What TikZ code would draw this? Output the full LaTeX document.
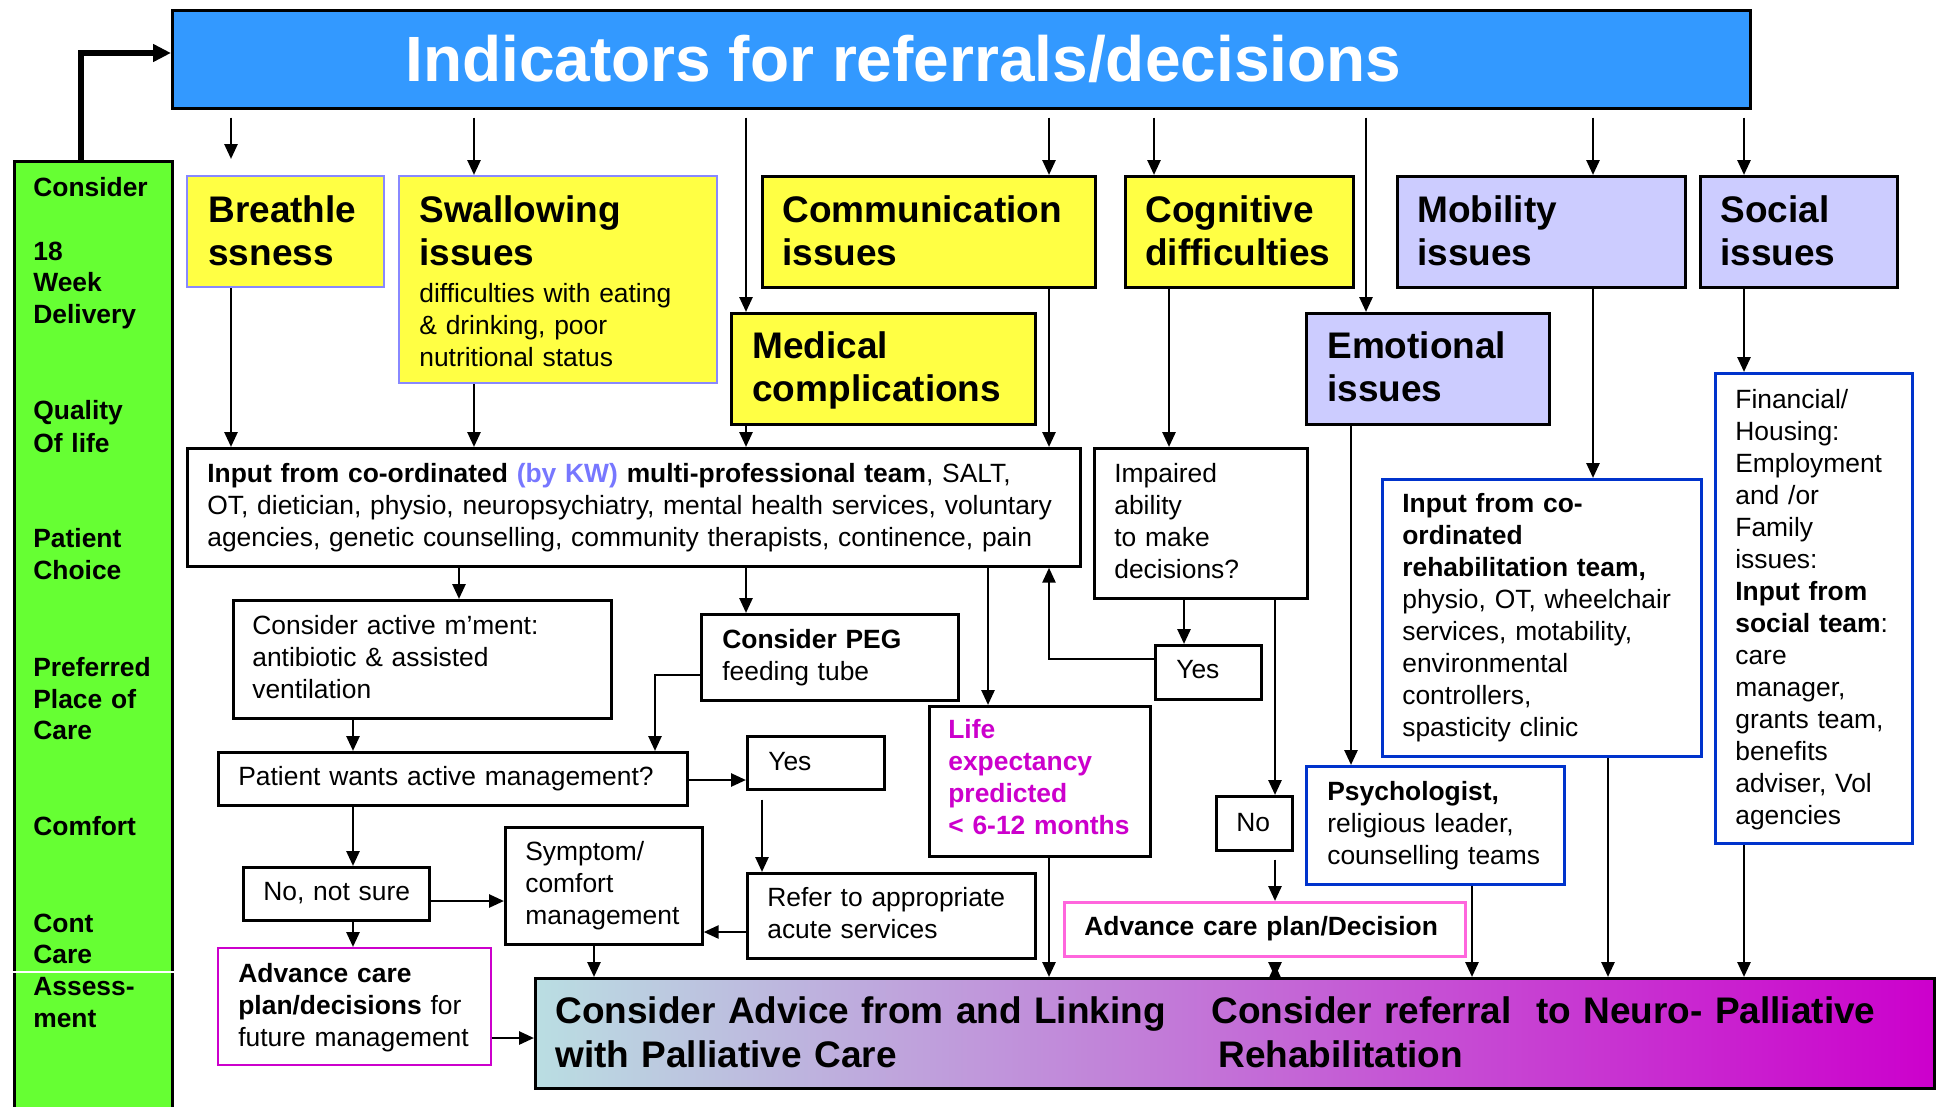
\documentclass[tikz,border=0pt]{standalone}
\usepackage{fontspec}
\setmainfont{Liberation Sans}
\usetikzlibrary{arrows.meta}

\definecolor{barblue}{RGB}{51,153,255}
\definecolor{sidegreen}{RGB}{102,255,51}
\definecolor{boxyellow}{RGB}{255,255,68}
\definecolor{boxlilac}{RGB}{204,204,255}
\definecolor{lilacline}{RGB}{136,136,255}
\definecolor{blueline}{RGB}{0,51,204}
\definecolor{magline}{RGB}{204,0,204}
\definecolor{pinkline}{RGB}{255,102,221}
\definecolor{kwblue}{RGB}{119,119,255}
\definecolor{palL}{RGB}{186,222,226}
\definecolor{palM}{RGB}{196,172,216}
\definecolor{palR}{RGB}{204,0,204}

\tikzset{every picture/.style={line width=2.7pt}}
\tikzset{
	box/.style={draw, inner sep=0pt, anchor=north west},
	ybox/.style={box, fill=boxyellow},
	lbox/.style={box, fill=boxlilac},
	wbox/.style={box, fill=white},
	bbox/.style={box, fill=white, draw=blueline, line width=3pt},
	txt/.style={anchor=base west, inner sep=0pt, text width=1000pt, align=left, font={\fontsize{26.4}{32}\selectfont}},
	btxt/.style={txt, font={\fontsize{26.4}{32}\selectfont\bfseries}},
	hd/.style={txt, font={\fontsize{37}{43}\selectfont\bfseries}},
	arr/.style={-{Triangle[length=15pt,width=13pt]}},
	dblarr/.style={{Triangle[length=15pt,width=13pt]}-{Triangle[length=15pt,width=13pt]}}
}

\begin{document}
\begin{tikzpicture}[x=1pt,y=1pt,yscale=-1]
	\useasboundingbox (0,0) rectangle (1936,1106);

	% top bar and side bar
	\node[box, fill=barblue, minimum width=1578, minimum height=98] (title) at (171,9) {};
	\node[box, fill=sidegreen, minimum width=158, minimum height=960] (side) at (13,160) {};
	\draw[white, line width=1.5pt] (side.west |- 0,972) -- (side.east |- 0,972);

	% issue boxes
	\node[ybox, draw=lilacline, line width=2pt, minimum width=197, minimum height=111] (breath) at (186,175) {};
	\node[ybox, draw=lilacline, line width=2pt, minimum width=318, minimum height=207] (swal) at (398,175) {};
	\node[ybox, minimum width=333, minimum height=111] (comm) at (761,175) {};
	\node[ybox, minimum width=228, minimum height=111] (cog) at (1124,175) {};
	\node[lbox, minimum width=288, minimum height=111] (mob) at (1396,175) {};
	\node[lbox, minimum width=197, minimum height=111] (soc) at (1699,175) {};
	\node[ybox, minimum width=304, minimum height=111] (med) at (730,312) {};
	\node[lbox, minimum width=243, minimum height=111] (emot) at (1305,312) {};

	% team and decision boxes
	\node[wbox, minimum width=893, minimum height=118] (inp) at (186,447) {};
	\node[wbox, minimum width=213, minimum height=150] (imp) at (1093,447) {};
	\node[bbox, minimum width=197, minimum height=470] (fin) at (1714,372) {};
	\node[bbox, minimum width=319, minimum height=277] (reh) at (1381,478) {};
	\node[wbox, minimum width=378, minimum height=118] (cact) at (232,599) {};
	\node[wbox, minimum width=257, minimum height=86] (peg) at (700,613) {};
	\node[wbox, minimum width=106, minimum height=54] (yesR) at (1154,644) {};
	\node[wbox, minimum width=221, minimum height=150] (life) at (928,705) {};
	\node[wbox, minimum width=469, minimum height=53] (pat) at (217,751) {};
	\node[wbox, minimum width=137, minimum height=53] (yesL) at (746,735) {};
	\node[bbox, minimum width=258, minimum height=118] (psy) at (1305,765) {};
	\node[wbox, minimum width=76, minimum height=54] (no) at (1215,795) {};
	\node[wbox, minimum width=197, minimum height=117] (symp) at (504,826) {};
	\node[wbox, minimum width=186, minimum height=53] (nsure) at (242,866) {};
	\node[wbox, minimum width=288, minimum height=85] (ref) at (746,872) {};
	\node[box, fill=white, draw=pinkline, line width=2.5pt, minimum width=401, minimum height=54] (advR) at (1063,901) {};
	\node[box, fill=white, draw=magline, line width=2pt, minimum width=273, minimum height=117] (advL) at (217,947) {};
	\node[box, left color=palL, middle color=palM, right color=palR, minimum width=1399, minimum height=110] (pall) at (534,977) {};

	% arrows from the top bar
	\draw[line width=5.4pt, -{Triangle[length=18pt,width=17pt]}] (81,0 |- side.north) |- (title.west |- 0,53);
	\draw[arr, shorten <=8pt, shorten >=16pt] (231,0 |- title.south) -- (231,0 |- breath.north);
	\foreach \xx/\dst in {474/swal, 746/med, 1049/comm, 1154/cog, 1366/emot, 1593/mob, 1744/soc}
		\draw[arr, shorten <=8pt] (\xx,0 |- title.south) -- (\xx,0 |- \dst.north);

	% issues to teams
	\foreach \xx/\src in {231/breath, 474/swal, 746/med, 1049/comm}
		\draw[arr] (\xx,0 |- \src.south) -- (\xx,0 |- inp.north);
	\draw[arr] (1169,0 |- cog.south) -- (1169,0 |- imp.north);
	\draw[arr] (1744,0 |- soc.south) -- (1744,0 |- fin.north);
	\draw[arr] (1593,0 |- mob.south) -- (1593,0 |- reh.north);
	\draw[arr] (1351,0 |- emot.south) -- (1351,0 |- psy.north);

	% decisions
	\draw[arr] (459,0 |- inp.south) -- (459,0 |- cact.north);
	\draw[arr] (746,0 |- inp.south) -- (746,0 |- peg.north);
	\draw[arr] (988,0 |- inp.south) -- (988,0 |- life.north);
	\draw[arr] (1184,0 |- imp.south) -- (1184,0 |- yesR.north);
	\draw[arr] (yesR.west |- 0,659) -| (1049,0 |- inp.south);
	\draw[arr] (1275,0 |- imp.south) -- (1275,0 |- no.north);
	\draw[arr] (peg.west |- 0,675) -| (655,0 |- pat.north);
	\draw[arr] (353,0 |- cact.south) -- (353,0 |- pat.north);
	\draw[arr] (pat.east |- 0,780) -- (yesL.west |- 0,780);
	\draw[arr, shorten <=9pt] (762,0 |- yesL.south) -- (762,0 |- ref.north);
	\draw[arr] (ref.west |- 0,932) -- (symp.east |- 0,932);
	\draw[arr] (353,0 |- pat.south) -- (353,0 |- nsure.north);
	\draw[arr] (nsure.east |- 0,901) -- (symp.west |- 0,901);
	\draw[arr] (353,0 |- nsure.south) -- (353,0 |- advL.north);

	% into the bottom bar
	\draw[arr] (advL.east |- 0,1038) -- (pall.west |- 0,1038);
	\draw[arr] (594,0 |- symp.south) -- (594,0 |- pall.north);
	\draw[arr] (1049,0 |- life.south) -- (1049,0 |- pall.north);
	\draw[arr, shorten <=8pt] (1275,0 |- no.south) -- (1275,0 |- advR.north);
	\draw[dblarr, shorten <=7pt] (1275,0 |- advR.south) -- (1275,0 |- pall.north);
	\draw[arr] (1472,0 |- psy.south) -- (1472,0 |- pall.north);
	\draw[arr] (1608,0 |- reh.south) -- (1608,0 |- pall.north);
	\draw[arr] (1744,0 |- fin.south) -- (1744,0 |- pall.north);

	% texts
	\node[anchor=base west, inner sep=0pt, text=white, font={\fontsize{64}{77}\selectfont\bfseries}] (ttl) at (404,81) {Indicators for referrals/decisions};
	\foreach \yy/\lbl [count=\i] in {196/Consider, 260/18, 291/Week, 323/Delivery, 419/Quality, 452/Of life, 547/Patient, 579/Choice, 676/Preferred, 708/Place of, 739/Care, 835/Comfort, 932/Cont, 963/Care, 995/Assess-, 1027/ment}
		\node[btxt] (g\i) at (32,\yy) {\lbl};

	\node[hd] (tBreath) at (207,222) {Breathle\\ssness};
	\node[hd] (tSwal) at (418,222) {Swallowing\\issues};
	\node[txt] (tSwal2) at (418,302) {difficulties with eating\\\& drinking, poor\\nutritional status};
	\node[hd] (tComm) at (781,222) {Communication\\issues};
	\node[hd] (tCog) at (1144,222) {Cognitive\\difficulties};
	\node[hd] (tMob) at (1416,222) {Mobility\\issues};
	\node[hd] (tSoc) at (1719,222) {Social\\issues};
	\node[hd] (tMed) at (751,358) {Medical\\complications};
	\node[hd] (tEmot) at (1326,358) {Emotional\\issues};

	\node[txt] (tInp) at (206,482) {\textbf{Input from co-ordinated} \textcolor{kwblue}{\textbf{(by KW)}} \textbf{multi-professional team}, SALT,\\OT, dietician, physio, neuropsychiatry, mental health services, voluntary\\agencies, genetic counselling, community therapists, continence, pain};
	\node[txt] (tImp) at (1113,482) {Impaired\\ability\\to make\\decisions?};
	\node[txt] (tFin) at (1734,408) {Financial/\\Housing:\\Employment\\and /or\\Family\\issues:\\\textbf{Input from}\\\textbf{social team}:\\care\\manager,\\grants team,\\benefits\\adviser, Vol\\agencies};
	\node[txt] (tReh) at (1401,512) {\textbf{Input from co-}\\\textbf{ordinated}\\\textbf{rehabilitation team,}\\physio, OT, wheelchair\\services, motability,\\environmental\\controllers,\\spasticity clinic};
	\node[txt] (tCact) at (251,634) {Consider active m’ment:\\antibiotic \& assisted\\ventilation};
	\node[txt] (tPeg) at (721,648) {\textbf{Consider PEG}\\feeding tube};
	\node[txt] (tYesR) at (1175,678) {Yes};
	\node[btxt, text=magline] (tLife) at (947,738) {Life\\expectancy\\predicted\\< 6-12 months};
	\node[txt] (tPat) at (237,785) {Patient wants active management?};
	\node[txt] (tYesL) at (767,770) {Yes};
	\node[txt] (tPsy) at (1326,800) {\textbf{Psychologist,}\\religious leader,\\counselling teams};
	\node[txt] (tNo) at (1235,831) {No};
	\node[txt] (tSymp) at (524,860) {Symptom/\\comfort\\management};
	\node[txt] (tNsure) at (262,900) {No, not sure};
	\node[txt] (tRef) at (766,906) {Refer to appropriate\\acute services};
	\node[btxt] (tAdvR) at (1083,935) {Advance care plan/Decision};
	\node[txt] (tAdvL) at (237,982) {\textbf{Advance care}\\\textbf{plan/decisions} for\\future management};
	\node[hd, font={\fontsize{37}{44}\selectfont\bfseries}] (tPall) at (554,1023) {Consider Advice from and Linking\\with Palliative Care};
	\node[hd, font={\fontsize{37}{44}\selectfont\bfseries}] (tNeuro) at (1210,1023) {Consider referral\ \ to Neuro- Palliative\\\hspace*{7pt}Rehabilitation};
\end{tikzpicture}
\end{document}
